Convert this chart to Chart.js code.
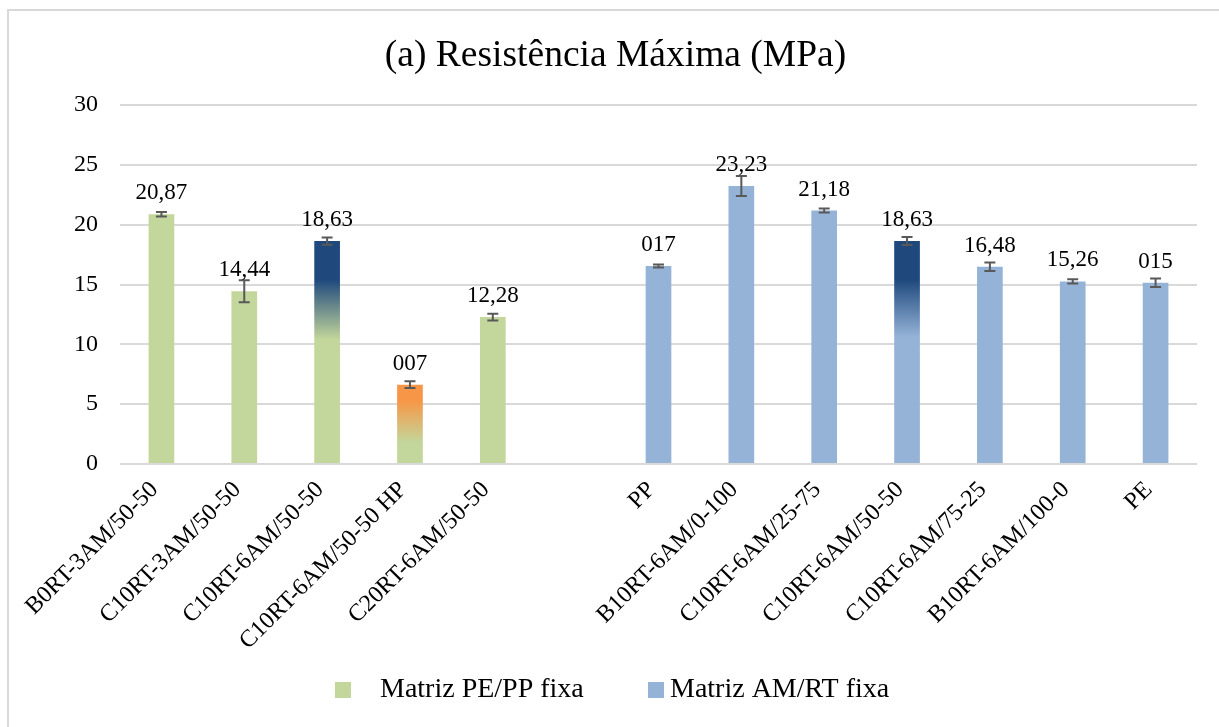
<!DOCTYPE html>
<html>
<head>
<meta charset="utf-8">
<script src="https://cdn.jsdelivr.net/npm/chart.js@4/dist/chart.umd.min.js"></script>
<style>
html, body { margin: 0; padding: 0; background: #fff; overflow: hidden; }
#frame { position: absolute; left: 7px; top: 9px; width: 1240px; height: 740px; border: 2px solid #d9d9d9; }
#wrap { position: absolute; left: 0; top: 0; width: 1219px; height: 727px; }
</style>
</head>
<body>
<div id="frame"></div>
<div id="wrap"><canvas id="chart" width="1219" height="727"></canvas></div>
<script>
const categories = [
    'B0RT-3AM/50-50', 'C10RT-3AM/50-50', 'C10RT-6AM/50-50', 'C10RT-6AM/50-50 HP', 'C20RT-6AM/50-50',
    '',
    'PP', 'B10RT-6AM/0-100', 'C10RT-6AM/25-75', 'C10RT-6AM/50-50', 'C10RT-6AM/75-25', 'B10RT-6AM/100-0', 'PE'
];
const seriesNames = ['Matriz PE/PP fixa', 'Matriz AM/RT fixa'];

const fixedPEPP = [20.87, 14.44, 18.63, 6.63, 12.28, null, null, null, null, null, null, null, null];
const fixedAMRT = [null, null, null, null, null, null, 16.55, 23.23, 21.18, 18.63, 16.48, 15.26, 15.15];

const errPEPP = [0.18, 0.92, 0.30, 0.28, 0.28, null, null, null, null, null, null, null, null];
const errAMRT = [null, null, null, null, null, null, 0.12, 0.83, 0.17, 0.33, 0.35, 0.17, 0.36];

const labelsPEPP = ['20,87', '14,44', '18,63', '007', '12,28', '', '', '', '', '', '', '', ''];
const labelsAMRT = ['', '', '', '', '', '', '017', '23,23', '21,18', '18,63', '16,48', '15,26', '015'];

const yTicks = [0, 5, 10, 15, 20, 25, 30];

const GREEN = '#c3d69b';
const BLUE = '#95b3d7';
const NAVY = '#1f497d';
const ORANGE = '#f79646';
const SERIF = "'Liberation Serif', 'Times New Roman', serif";

// bars that fade from a strong colour at the top into the series colour
const fades = {
    0: { 2: { color: NAVY, from: 15.4, to: 10.4 }, 3: { color: ORANGE, from: 5.3, to: 1.8 } },
    1: { 9: { color: NAVY, from: 15.4, to: 10.6 } }
};

function barFill(base, dsIndex) {
    return (ctx) => {
        const chart = ctx.chart;
        const f = fades[dsIndex] && fades[dsIndex][ctx.dataIndex];
        if (!f || !chart.chartArea) return base;
        const y = chart.scales.y;
        const y0 = y.getPixelForValue(f.from);
        const y1 = y.getPixelForValue(f.to);
        const g = chart.ctx.createLinearGradient(0, y0, 0, y1);
        g.addColorStop(0, f.color);
        g.addColorStop(1, base);
        return g;
    };
}

const errors = [errPEPP, errAMRT];
const texts = [labelsPEPP, labelsAMRT];

const errorBars = {
    id: 'errorBars',
    afterDatasetsDraw(chart) {
        const ctx = chart.ctx;
        const y = chart.scales.y;
        ctx.save();
        ctx.strokeStyle = '#595959';
        ctx.lineWidth = 2;
        chart.data.datasets.forEach((ds, di) => {
            chart.getDatasetMeta(di).data.forEach((bar, i) => {
                const v = ds.data[i];
                const e = errors[di][i];
                if (v == null || e == null) return;
                const top = y.getPixelForValue(v + e);
                const bot = y.getPixelForValue(v - e);
                ctx.beginPath();
                ctx.moveTo(bar.x, top); ctx.lineTo(bar.x, bot);
                ctx.moveTo(bar.x - 5.5, top); ctx.lineTo(bar.x + 5.5, top);
                ctx.moveTo(bar.x - 5.5, bot); ctx.lineTo(bar.x + 5.5, bot);
                ctx.stroke();
            });
        });
        ctx.fillStyle = '#000';
        ctx.font = '23px ' + SERIF;
        ctx.textAlign = 'center';
        ctx.textBaseline = 'alphabetic';
        chart.data.datasets.forEach((ds, di) => {
            chart.getDatasetMeta(di).data.forEach((bar, i) => {
                if (ds.data[i] == null) return;
                ctx.fillText(texts[di][i], bar.x, bar.y - 15);
            });
        });
        ctx.restore();
    }
};

const bottomLegend = {
    id: 'bottomLegend',
    afterDraw(chart) {
        const ctx = chart.ctx;
        const items = [
            { box: 335, text: 380, color: GREEN, label: chart.data.datasets[0].label },
            { box: 648, text: 670, color: BLUE, label: chart.data.datasets[1].label }
        ];
        ctx.save();
        ctx.font = '28px ' + SERIF;
        ctx.textBaseline = 'middle';
        ctx.textAlign = 'left';
        items.forEach(it => {
            ctx.fillStyle = it.color;
            ctx.fillRect(it.box, 682, 16, 16);
            ctx.fillStyle = '#000';
            ctx.fillText(it.label, it.text, 690);
        });
        ctx.restore();
    }
};

new Chart('chart', {
    type: 'bar',
    data: {
        labels: categories,
        datasets: [{
            label: seriesNames[0],
            data: fixedPEPP,
            backgroundColor: barFill(GREEN, 0),
            grouped: false,
            barPercentage: 0.31,
            categoryPercentage: 1
        }, {
            label: seriesNames[1],
            data: fixedAMRT,
            backgroundColor: barFill(BLUE, 1),
            grouped: false,
            barPercentage: 0.31,
            categoryPercentage: 1
        }]
    },
    options: {
        responsive: false,
        animation: false,
        devicePixelRatio: 1,
        layout: { padding: { left: 34, right: 22, top: 0, bottom: 68 } },
        plugins: {
            legend: { display: false },
            tooltip: { enabled: false },
            title: {
                display: true,
                text: '(a) Resistência Máxima (MPa)',
                color: '#000',
                font: { family: SERIF, size: 37.5, weight: 'normal', lineHeight: 1.2 },
                padding: { top: 34, bottom: 26 }
            }
        },
        scales: {
            x: {
                grid: { display: false },
                border: { display: false },
                ticks: {
                    autoSkip: false,
                    minRotation: 45,
                    maxRotation: 45,
                    padding: 4,
                    labelOffset: -7,
                    color: '#000',
                    font: { family: SERIF, size: 24 }
                },
                afterFit(scale) { scale.height = 195; }
            },
            y: {
                min: 0,
                max: 30,
                afterBuildTicks(scale) { scale.ticks = yTicks.map(v => ({ value: v })); },
                grid: { color: '#d9d9d9', lineWidth: 2, drawTicks: false },
                border: { display: false },
                ticks: {
                    padding: 22,
                    color: '#000',
                    font: { family: SERIF, size: 24 }
                },
                afterFit(scale) { scale.width = 86; }
            }
        }
    },
    plugins: [errorBars, bottomLegend]
});
</script>
</body>
</html>
